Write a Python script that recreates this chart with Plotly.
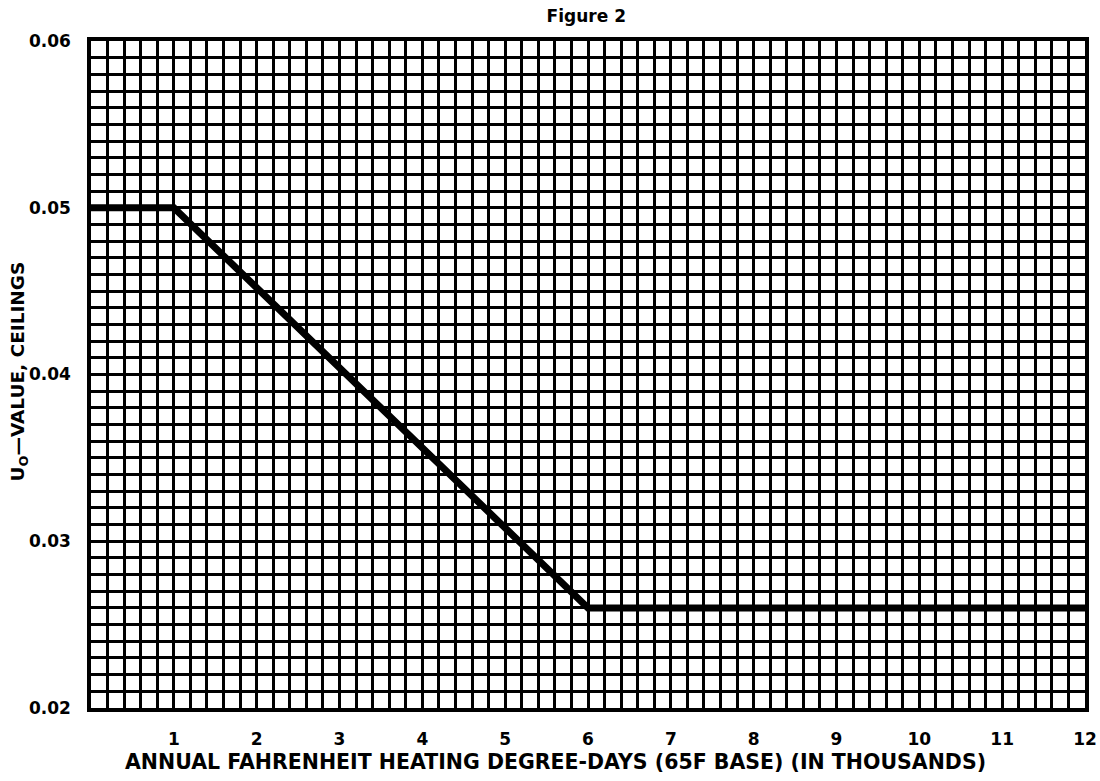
import plotly.graph_objects as go

# Data
degree_days_k = [0, 1, 6, 12]
u_value = [0.05, 0.05, 0.026, 0.026]
x_tick_vals = [1, 2, 3, 4, 5, 6, 7, 8, 9, 10, 11, 12]
x_tick_text = ["1", "2", "3", "4", "5", "6", "7", "8", "9", "10", "11", "12"]
y_tick_vals = [0.02, 0.03, 0.04, 0.05, 0.06]
y_tick_text = ["0.02", "0.03", "0.04", "0.05", "0.06"]

FONT = "DejaVu Sans"

fig = go.Figure()
fig.add_trace(go.Scatter(
    x=degree_days_k, y=u_value, mode="lines",
    line=dict(color="black", width=7),
    showlegend=False, cliponaxis=True,
))

grid = dict(color="black", width=3.1)
tickfont = dict(size=17, family=FONT, color="black", weight="bold")

fig.update_layout(
    width=1100, height=781,
    paper_bgcolor="white", plot_bgcolor="white",
    margin=dict(l=91, r=15, t=41, b=73),
    font=dict(family=FONT, color="black", size=15, weight="bold"),
    title=dict(text="<b>Figure 2</b>", x=0.533, xanchor="center", y=0.9795, yanchor="middle",
               font=dict(size=17, family=FONT, color="black")),
    xaxis=dict(
        range=[0, 12], tickmode="array", tickvals=x_tick_vals, ticktext=x_tick_text,
        showgrid=True, gridcolor=grid["color"], gridwidth=grid["width"],
        minor=dict(dtick=0.2, tick0=0, showgrid=True, gridcolor=grid["color"], gridwidth=grid["width"]),
        showline=True, linecolor="black", linewidth=3.5, mirror=True,
        ticks="", ticklabelstandoff=13, zeroline=False, automargin=False,
        tickfont=tickfont,
    ),
    yaxis=dict(
        range=[0.02, 0.06], tickmode="array", tickvals=y_tick_vals, ticktext=y_tick_text,
        showgrid=True, gridcolor=grid["color"], gridwidth=grid["width"],
        minor=dict(dtick=0.001, tick0=0.02, showgrid=True, gridcolor=grid["color"], gridwidth=grid["width"]),
        showline=True, linecolor="black", linewidth=3.5, mirror=True,
        ticks="", ticklabelstandoff=13, zeroline=False, automargin=False,
        tickfont=tickfont,
    ),
)

fig.add_annotation(
    text="<b>ANNUAL FAHRENHEIT HEATING DEGREE-DAYS (65F BASE) (IN THOUSANDS)</b>",
    xref="paper", yref="paper", x=0.467, y=-0.081, xanchor="center", yanchor="middle",
    showarrow=False, font=dict(size=20.5, family=FONT, color="black"),
)
fig.add_annotation(
    text="<b>U<sub>O</sub>—VALUE, CEILINGS</b>",
    xref="paper", yref="paper", x=-0.072, y=0.505, xanchor="center", yanchor="middle",
    textangle=-90, showarrow=False, font=dict(size=18.5, family=FONT, color="black"),
)

fig.write_html(
    "out.html",
    config={"displayModeBar": False},
    post_script="document.body.style.margin='0';document.body.style.overflow='hidden';",
)
